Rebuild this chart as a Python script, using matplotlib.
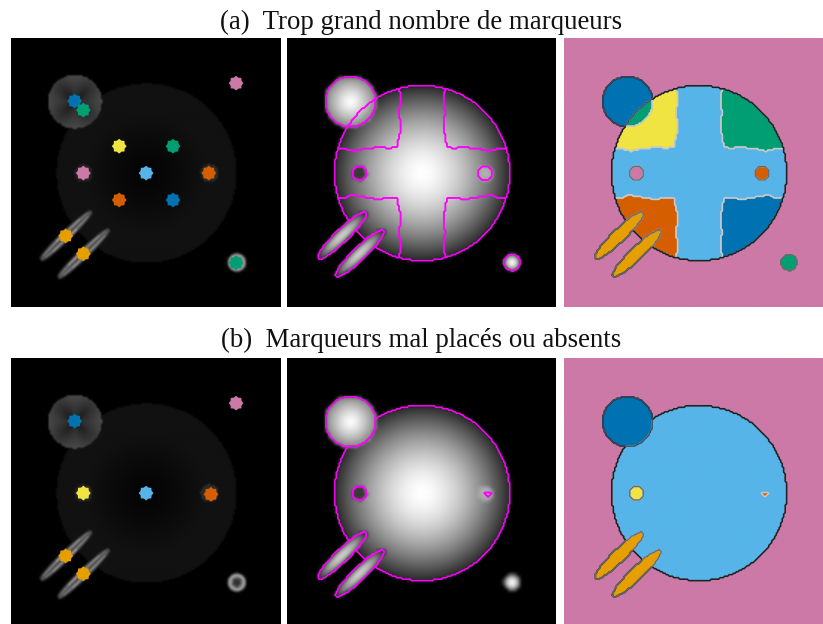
import numpy as np
import matplotlib
matplotlib.use("Agg")
import matplotlib.pyplot as plt
from matplotlib.path import Path
from matplotlib.colors import ListedColormap, BoundaryNorm

BLUE, GREEN, YELLOW, PINK = "#0072B2", "#009E73", "#F0E442", "#CC79A7"
SKY, VERM, AMBER = "#56B4E9", "#D55E00", "#E69F00"

titles = ["(a)  Trop grand nombre de marqueurs", "(b)  Marqueurs mal placés ou absents"]

# markers (image pixel units, 90 x 90 image)
markers_a_x = [75.3, 21.3, 24.2, 36.2, 54.2, 24.2, 45.2, 66.2, 36.2, 54.2, 18.3, 24.2, 75.3]
markers_a_y = [15.1, 21.1, 24.1, 36.2, 36.2, 45.2, 45.2, 45.2, 54.2, 54.2, 66.2, 72.2, 75.2]
markers_a_c = [PINK, BLUE, GREEN, YELLOW, GREEN, PINK, SKY, VERM, VERM, BLUE, AMBER, AMBER, GREEN]
markers_b_x = [75.3, 21.3, 24.2, 45.2, 66.9, 18.3, 24.2]
markers_b_y = [15.1, 21.1, 45.2, 45.2, 45.6, 66.2, 72.2]
markers_b_c = [PINK, BLUE, YELLOW, SKY, VERM, AMBER, AMBER]

# half-width of the arms of the cross, by distance from the centre
arm_v = [8.1] * 10 + [8.0, 7.8, 7.6, 7.4, 7.3, 7.3, 7.3, 7.4, 7.5, 7.6, 7.6, 7.5, 7.4, 7.4, 7.3, 7.2, 7.4, 7.7, 7.9, 8.0, 8.0, 8.0]
arm_h = [8.5] * 10 + [8.4, 8.4, 8.5, 8.7, 8.8, 8.6, 8.3, 8.1, 8.1, 8.0, 7.8, 7.6, 7.4, 7.5, 7.8, 8.1, 8.4, 8.4, 8.2, 8.0, 8.0, 8.0]

CX, CY, R = 45.2, 45.2, 29.3
TLX, TLY, TLR = 21.3, 21.3, 8.4
BRX, BRY, BRR = 75.3, 75.1, 2.7
ELL_X, ELL_Y = [18.4, 24.3], [66.1, 72.1]
ELL_A, ELL_B = 11.1, 2.15
ELL_A_GRAD = 11.9
HOLE_L = (24.2, 45.2)
HOLE_R = (66.2, 45.2)
HOLE_RAD = 2.4
ELL_T = np.deg2rad(44)
LN = 180


def grid(n):
    c = (np.arange(n) + 0.5) * 90.0 / n
    return np.meshgrid(c, c)


def ell_uv(x, y, i):
    dx, dy = x - ELL_X[i], y - ELL_Y[i]
    u = dx * np.cos(ELL_T) - dy * np.sin(ELL_T)
    v = dx * np.sin(ELL_T) + dy * np.cos(ELL_T)
    return u, v


def intensity(x, y):
    r = np.hypot(x - CX, y - CY)
    img = np.where(r < R + 0.4, 1.0 - 0.84 * (r / R) ** 1.6, 0.0)
    rt = np.hypot(x - TLX, y - TLY)
    img = np.where(rt < TLR + 0.4, 1.0 - 0.48 * (rt / TLR) ** 1.3, img)
    rb = np.hypot(x - BRX, y - BRY)
    img = np.where(rb < BRR + 0.3, 1.0 - 0.65 * (rb / BRR) ** 2, img)
    for i in range(2):
        u, v = ell_uv(x, y, i)
        q = np.hypot(u / ELL_A, v / ELL_B)
        img = np.where(q < 1.05, 0.82 - 0.45 * q ** 2 - 0.2 * (u / ELL_A) ** 2, img)
    rh = np.hypot(x - HOLE_L[0], y - HOLE_L[1])
    img = np.where(rh < HOLE_RAD, 0.22, img)
    rh = np.hypot(x - HOLE_R[0], y - HOLE_R[1])
    img = np.where(rh < HOLE_RAD + 0.3, np.maximum(img, 0.72 - 0.08 * (rh / HOLE_RAD)), img)
    return np.clip(img, 0, 1)


def gradient_view(x, y):
    r = np.hypot(x - CX, y - CY)
    img = np.where(r < R + 0.7, 0.018 + 0.052 * np.clip(r / 20, 0, 1) ** 1.3, 0.0)
    rt = np.hypot(x - TLX, y - TLY)
    ang = np.arctan2(y - TLY, x - TLX)
    tl = 0.13 + 0.13 * (rt / 9.0) ** 1.3 + 0.03 * np.cos(4 * ang)
    img = np.where(rt < 9.0, tl, img)
    for c, amp in ((HOLE_L, 0.10), (HOLE_R, 0.13)):
        rh = np.hypot(x - c[0], y - c[1])
        img = np.where(rh < 3.0, 0.04 + amp, img)
    rb = np.hypot(x - BRX, y - BRY)
    ring = 0.65 * np.exp(-((rb - 2.3) / 0.8) ** 2) + 0.18 * (rb < 1.6)
    img = np.where(rb < 3.4, ring, img)
    for i in range(2):
        u, v = ell_uv(x, y, i)
        s = np.sqrt(np.clip(1 - (u / ELL_A_GRAD) ** 2, 0, 1))
        st = 0.44 * s ** 0.5 * np.exp(-((np.abs(v) - 1.05 * s) / 0.6) ** 2) + 0.25 * s * (np.abs(v) < 1.05 * s)
        img = np.maximum(st, img)
    return img


def labels(scene):
    x, y = grid(LN)
    lab = np.zeros((LN, LN), int)
    dx, dy = np.abs(x - CX), np.abs(y - CY)
    r = np.hypot(x - CX, y - CY)
    big = r < R
    lab[big] = 1
    if scene == "a":
        hv = np.array(arm_v)[np.clip(dy.astype(int), 0, 31)]
        hh = np.array(arm_h)[np.clip(dx.astype(int), 0, 31)]
        cross = (dx < hv) | (dy < hh)
        quad = big & ~cross
        lab[quad & (x < CX) & (y < CY)] = 2
        lab[quad & (x > CX) & (y < CY)] = 3
        lab[quad & (x < CX) & (y > CY)] = 4
        lab[quad & (x > CX) & (y > CY)] = 5
    tl = np.hypot(x - TLX, y - TLY) < TLR
    lab[tl] = 6
    if scene == "a":
        lab[tl & big] = 7
    for i in range(2):
        u, v = ell_uv(x, y, i)
        lab[np.hypot(u / ELL_A, v / ELL_B) < 1] = 8
    hl = np.hypot(x - HOLE_L[0], y - HOLE_L[1]) < HOLE_RAD
    lab[hl] = 9 if scene == "a" else 2
    if scene == "a":
        lab[np.hypot(x - HOLE_R[0], y - HOLE_R[1]) < HOLE_RAD] = 10
        lab[np.hypot(x - BRX, y - BRY) < BRR] = 11
    else:
        lab[(y > 45.0) & (y < 46.4) & (np.abs(x - 67.2) < 1.2 * (46.4 - y))] = 10
    return lab


label_colors = [PINK, SKY, YELLOW, GREEN, VERM, BLUE, BLUE, GREEN, AMBER, PINK, VERM, GREEN]
label_cmap = ListedColormap(label_colors)
label_norm = BoundaryNorm(np.arange(-0.5, 12.5), 12)

th = np.linspace(0, 2 * np.pi, 16, endpoint=False) + np.pi / 2
rad = np.where(np.arange(16) % 2 == 0, 1.0, 0.8)
blob = Path(np.c_[rad * np.cos(th), rad * np.sin(th)])

W, H = 823, 624
fig = plt.figure(figsize=(W / 100, H / 100), dpi=100)
plt.rcParams["font.family"] = ["Liberation Serif", "DejaVu Serif"]


def panel(x0, y0):
    ax = fig.add_axes([x0 / W, 1 - (y0 + 269) / H, 269 / W, 269 / H])
    ax.set_xlim(0, 90)
    ax.set_ylim(90, 0)
    ax.set_axis_off()
    return ax


def outlines(ax, lab, vals, color, lw):
    xg, yg = grid(LN)
    for v in vals:
        mask = np.isin(lab, v).astype(float)
        if mask.any():
            ax.contour(xg, yg, mask, levels=[0.5], colors=[color], linewidths=lw)


rows = [(38, "a", markers_a_x, markers_a_y, markers_a_c, 22),
        (358, "b", markers_b_x, markers_b_y, markers_b_c, 340)]
for y0, scene, mx, my, mc, ty in rows:
    fig.text(421 / W, 1 - ty / H, titles[0 if scene == "a" else 1], ha="center", va="center",
             fontsize=19.4, color="#111111")
    lab = labels(scene)

    ax = panel(11, y0)
    xg, yg = grid(180)
    ax.imshow(gradient_view(xg, yg), cmap="gray", vmin=0, vmax=1,
              extent=(0, 90, 90, 0), interpolation="bicubic", aspect="auto")
    ax.scatter(mx, my, s=115, c=mc, marker=blob, linewidths=0, zorder=3)

    ax = panel(287, y0)
    xg, yg = grid(90)
    ax.imshow(intensity(xg, yg), cmap="gray", vmin=0, vmax=1,
              extent=(0, 90, 90, 0), interpolation="bicubic", aspect="auto")
    outlines(ax, lab, [1, 2, 3, 4, 5, 6, 7, 8, 9, 10, 11], "#FF00FF", 1.1)

    ax = panel(564, y0)
    ax.imshow(lab, cmap=label_cmap, norm=label_norm, extent=(0, 90, 90, 0),
              interpolation="bilinear", aspect="auto")
    outlines(ax, lab, [1, 2, 3, 4, 5, 7], "#C8C8C8", 1.0)
    outlines(ax, lab, [[1, 2, 3, 4, 5, 6, 7, 8, 9, 10]], "#1E2228", 1.2)
    outlines(ax, lab, [6], "#3A4A5A", 1.0)
    outlines(ax, lab, [8, 9, 10, 11] if scene == "a" else [8, 2], "#6A6A6A", 1.0)

fig.savefig("out.png", dpi=100, facecolor="white")
